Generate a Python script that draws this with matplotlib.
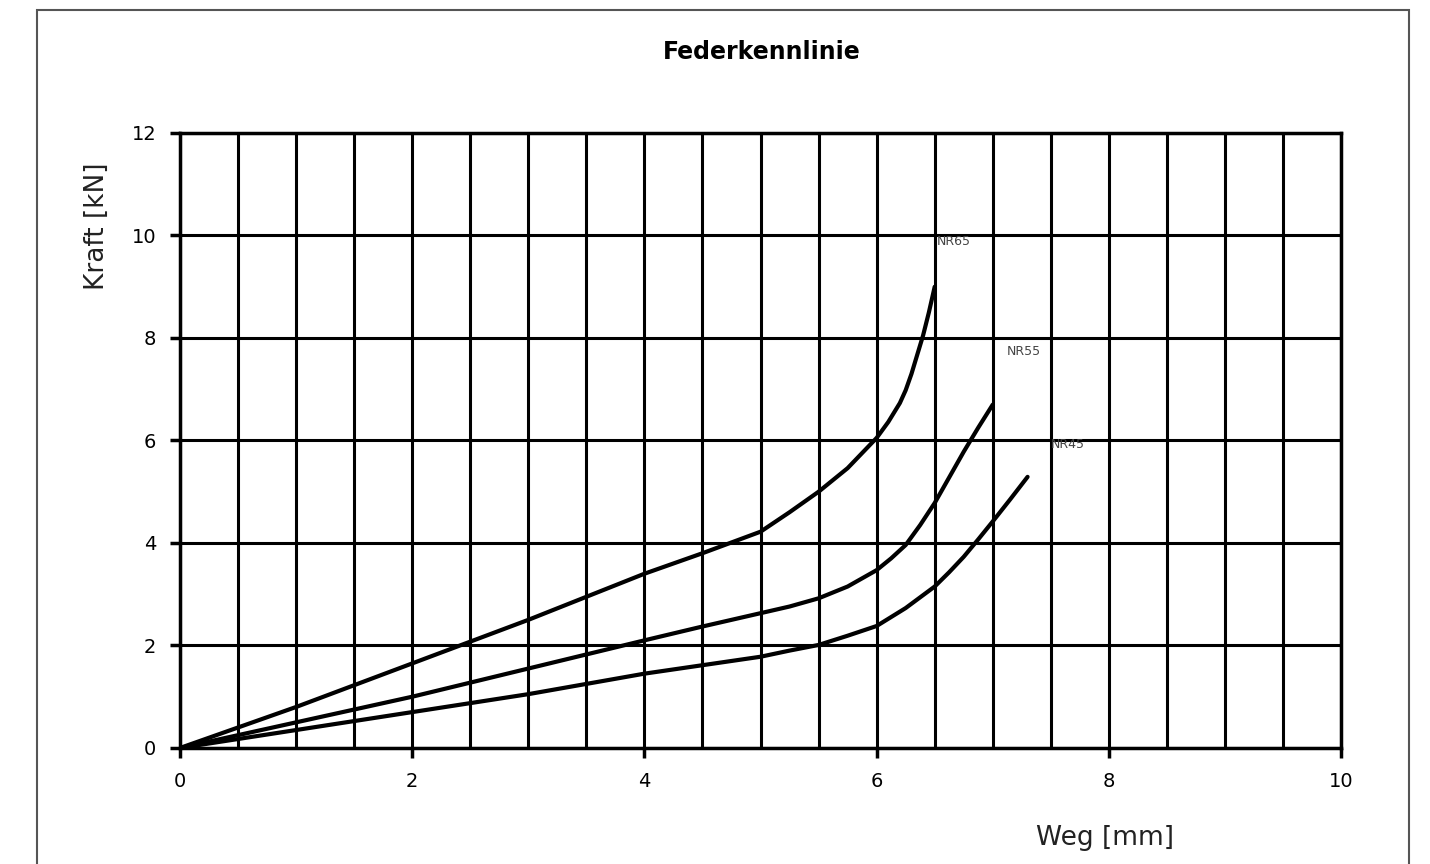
import matplotlib
matplotlib.use('Agg')
import matplotlib.pyplot as plt
from matplotlib.patches import Rectangle
from matplotlib.ticker import MultipleLocator

# Weg [mm] / Kraft [kN]
weg_nr65 = [0, 1, 2, 3, 4, 4.5, 5, 5.25, 5.5, 5.75, 6, 6.1, 6.2, 6.25, 6.3, 6.4, 6.45, 6.5]
kraft_nr65 = [0, 0.8, 1.65, 2.5, 3.4, 3.8, 4.22, 4.6, 5.0, 5.46, 6.05, 6.36, 6.73, 6.98, 7.3, 8.05, 8.5, 9.0]

weg_nr55 = [0, 1, 2, 3, 4, 4.5, 5, 5.25, 5.5, 5.75, 6, 6.125, 6.25, 6.375, 6.5, 6.625, 6.75, 6.875, 7.0]
kraft_nr55 = [0, 0.5, 1.0, 1.55, 2.1, 2.37, 2.63, 2.76, 2.92, 3.15, 3.47, 3.7, 3.96, 4.35, 4.78, 5.28, 5.78, 6.25, 6.7]

weg_nr45 = [0, 1, 2, 3, 4, 5, 5.25, 5.5, 5.75, 6, 6.25, 6.5, 6.625, 6.75, 6.875, 7.0, 7.15, 7.3]
kraft_nr45 = [0, 0.35, 0.7, 1.05, 1.45, 1.78, 1.9, 2.01, 2.19, 2.38, 2.73, 3.15, 3.43, 3.73, 4.07, 4.42, 4.85, 5.29]

labels = ['NR65', 'NR55', 'NR45']
label_pos = [(6.52, 9.75), (7.12, 7.6), (7.5, 5.8)]

plt.rcParams['font.family'] = ['DejaVu Sans']

fig = plt.figure(figsize=(14.3, 8.64), dpi=100)
ax = fig.add_axes([0.1259, 0.1343, 0.8119, 0.7118])

# frame around the whole chart
fig.patches.append(Rectangle((37 / 1430, -0.05), (1409 - 37) / 1430, 1.05 - 10 / 864,
                             transform=fig.transFigure, fill=False,
                             edgecolor='#555555', linewidth=1.5))

for w, k in [(weg_nr65, kraft_nr65), (weg_nr55, kraft_nr55), (weg_nr45, kraft_nr45)]:
    ax.plot(w, k, color='black', linewidth=3, solid_capstyle='round',
            solid_joinstyle='round', zorder=3)

for lab, (x, y) in zip(labels, label_pos):
    ax.text(x, y, lab, fontsize=9, color='#444444', ha='left', va='bottom')

ax.set_xlim(0, 10)
ax.set_ylim(0, 12)
ax.xaxis.set_major_locator(MultipleLocator(2))
ax.xaxis.set_minor_locator(MultipleLocator(0.5))
ax.yaxis.set_major_locator(MultipleLocator(2))

ax.grid(True, which='both', axis='x', color='black', linewidth=2.2)
ax.grid(True, which='major', axis='y', color='black', linewidth=2.2)
ax.set_axisbelow(True)

for s in ax.spines.values():
    s.set_linewidth(2.5)
    s.set_color('black')

ax.tick_params(axis='both', which='major', direction='out', length=7, width=2.5,
               labelsize=14, colors='black', pad=10)
ax.tick_params(axis='both', which='minor', length=0)

fig.text(0.533, 0.94, 'Federkennlinie', fontsize=17, fontweight='bold',
         ha='center', va='center')
fig.text(0.773, 0.030, 'Weg [mm]', fontsize=19, ha='center', va='center', color='#222222')
fig.text(0.068, 0.738, 'Kraft [kN]', fontsize=19, ha='center', va='center',
         rotation=90, color='#222222')

fig.savefig('out.png', dpi=100, facecolor='white')
